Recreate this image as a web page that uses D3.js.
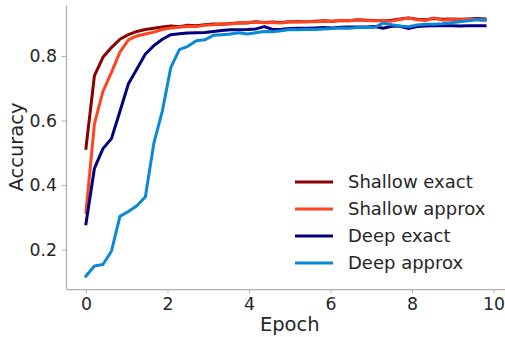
<!DOCTYPE html>
<html>
<head>
<meta charset="utf-8">
<script src="https://cdn.jsdelivr.net/npm/d3@7"></script>
<style>
  body { margin: 0; background: #fff; }
  svg { display: block; font-family: "DejaVu Sans", sans-serif; }
</style>
</head>
<body>
<div id="chart"></div>
<script>
// accuracy per evaluation step (48 steps over ~10 epochs)
const nSteps = 48;
const epochs = d3.range(nSteps).map(i => i * 10 / 48);

const shallowExact = [0.514, 0.739, 0.796, 0.826, 0.852, 0.866, 0.876, 0.882, 0.886, 0.89,
  0.893, 0.891, 0.895, 0.894, 0.897, 0.899, 0.898, 0.901, 0.902, 0.902,
  0.906, 0.904, 0.905, 0.904, 0.906, 0.907, 0.906, 0.908, 0.909, 0.908,
  0.91, 0.909, 0.912, 0.911, 0.91, 0.909, 0.911, 0.915, 0.918, 0.914,
  0.912, 0.916, 0.914, 0.915, 0.914, 0.915, 0.916, 0.915];
const shallowApprox = [0.315, 0.59, 0.69, 0.749, 0.812, 0.85, 0.862, 0.868, 0.874, 0.882,
  0.887, 0.889, 0.892, 0.891, 0.895, 0.897, 0.9, 0.899, 0.903, 0.904,
  0.905, 0.903, 0.904, 0.902, 0.906, 0.905, 0.907, 0.906, 0.908, 0.907,
  0.911, 0.909, 0.912, 0.91, 0.909, 0.91, 0.908, 0.913, 0.918, 0.912,
  0.91, 0.918, 0.911, 0.913, 0.912, 0.914, 0.912, 0.91];
const deepExact = [0.28, 0.452, 0.513, 0.544, 0.628, 0.714, 0.76, 0.806, 0.832, 0.852,
  0.866, 0.869, 0.871, 0.872, 0.873, 0.876, 0.879, 0.881, 0.881, 0.882,
  0.884, 0.891, 0.882, 0.883, 0.885, 0.886, 0.886, 0.887, 0.888, 0.887,
  0.889, 0.89, 0.89, 0.89, 0.891, 0.886, 0.892, 0.892, 0.885, 0.891,
  0.893, 0.894, 0.894, 0.894, 0.893, 0.894, 0.894, 0.894];
const deepApprox = [0.118, 0.149, 0.154, 0.195, 0.303, 0.318, 0.336, 0.364, 0.53, 0.63,
  0.765, 0.82, 0.83, 0.847, 0.85, 0.864, 0.866, 0.868, 0.872, 0.868,
  0.872, 0.876, 0.875, 0.878, 0.882, 0.881, 0.883, 0.882, 0.884, 0.885,
  0.887, 0.886, 0.888, 0.888, 0.889, 0.902, 0.897, 0.893, 0.891, 0.896,
  0.898, 0.898, 0.9, 0.903, 0.906, 0.909, 0.912, 0.912];

const seriesNames = ["Shallow exact", "Shallow approx", "Deep exact", "Deep approx"];
const seriesValues = [shallowExact, shallowApprox, deepExact, deepApprox];
const seriesColors = ["#8b0000", "#ff4422", "#000080", "#0a88d8"];

const xTicks = [0, 2, 4, 6, 8, 10];
const yTicks = [0.2, 0.4, 0.6, 0.8];

const width = 505, height = 337;
const margin = {top: 5, right: 0, bottom: 48, left: 66};
const textColor = "#262626";
const spineColor = "#b0b0b0";

const svg = d3.select("#chart").append("svg")
  .attr("width", width)
  .attr("height", height);

// matplotlib-style 5% padding around data range
const xMax = d3.max(epochs);
const xPad = xMax * 0.05;
const allVals = seriesValues.flat();
const yMin = d3.min(allVals), yMax = d3.max(allVals);
const yPad = (yMax - yMin) * 0.05;

const x = d3.scaleLinear()
  .domain([-xPad, xMax + xPad])
  .range([margin.left, width - margin.right]);

const y = d3.scaleLinear()
  .domain([yMin - yPad, yMax + yPad])
  .range([height - margin.bottom, margin.top]);

// axes
const xAxis = svg.append("g")
  .attr("transform", `translate(0,${height - margin.bottom})`)
  .call(d3.axisBottom(x).tickValues(xTicks).tickSize(4).tickPadding(5).tickSizeOuter(0));

const yAxis = svg.append("g")
  .attr("transform", `translate(${margin.left},0)`)
  .call(d3.axisLeft(y).tickValues(yTicks).tickFormat(d3.format(".1f")).tickSize(4).tickPadding(5).tickSizeOuter(0));

[xAxis, yAxis].forEach(g => {
  g.select(".domain").attr("stroke", spineColor).attr("stroke-width", 1.25);
  g.selectAll(".tick line").attr("stroke", spineColor).attr("stroke-width", 1);
  g.selectAll(".tick text")
    .attr("fill", textColor)
    .style("font-size", "17.3px")
    .style("font-family", "DejaVu Sans");
});

// lines
const line = d3.line()
  .x((d, i) => x(epochs[i]))
  .y(d => y(d));

svg.append("g")
  .selectAll("path")
  .data(seriesValues)
  .join("path")
    .attr("d", d => line(d))
    .attr("fill", "none")
    .attr("stroke", (d, i) => seriesColors[i])
    .attr("stroke-width", 3)
    .attr("stroke-linejoin", "round")
    .attr("stroke-linecap", "square");

// axis labels
svg.append("text")
  .attr("x", x(5))
  .attr("y", 331)
  .attr("text-anchor", "middle")
  .attr("fill", textColor)
  .style("font-size", "19.5px")
  .text("Epoch");

svg.append("text")
  .attr("transform", `translate(23,${(margin.top + height - margin.bottom) / 2}) rotate(-90)`)
  .attr("text-anchor", "middle")
  .attr("fill", textColor)
  .style("font-size", "19.5px")
  .text("Accuracy");

// legend
const legend = svg.append("g")
  .attr("transform", "translate(295,182)");

const rows = legend.selectAll("g")
  .data(seriesNames)
  .join("g")
    .attr("transform", (d, i) => `translate(0,${i * 27})`);

rows.append("line")
  .attr("x1", 0).attr("x2", 38)
  .attr("stroke", (d, i) => seriesColors[i])
  .attr("stroke-width", 3);

rows.append("text")
  .attr("x", 53)
  .attr("dy", "0.35em")
  .attr("fill", textColor)
  .style("font-size", "18px")
  .text(d => d);
</script>
</body>
</html>
